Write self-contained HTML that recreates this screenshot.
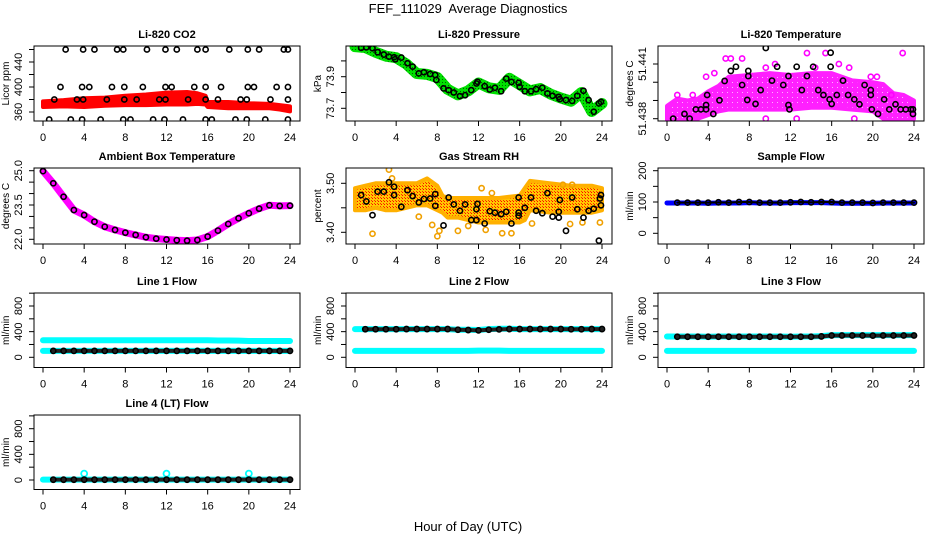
<!DOCTYPE html>
<html><head><meta charset="utf-8"><style>
html,body{margin:0;padding:0;background:#fff}
svg{display:block;font-family:"Liberation Sans",sans-serif}
text{fill:#000}
</style></head><body>
<svg id="chart" width="936" height="540" viewBox="0 0 936 540">
<defs>
<pattern id="pGreen" width="3" height="3" patternUnits="userSpaceOnUse"><rect width="3" height="3" fill="#00e000"/><rect x="1" y="1" width="1" height="1" fill="#006000"/></pattern>
<pattern id="pOrange" width="3" height="3" patternUnits="userSpaceOnUse"><rect width="3" height="3" fill="#ffc800"/><rect width="1" height="1" fill="#f00"/><rect x="2" y="2" width="1" height="1" fill="#ff3000"/></pattern>
<pattern id="pMag" width="5" height="5" patternUnits="userSpaceOnUse"><rect width="5" height="5" fill="#ff20ff"/><rect x="2" y="2" width="1" height="1" fill="#ffb0ff"/></pattern>
</defs>
<text x="468" y="13" text-anchor="middle" font-size="13" xml:space="preserve">FEF_111029  Average Diagnostics</text>
<text x="468" y="531" text-anchor="middle" font-size="13">Hour of Day (UTC)</text>
</svg>
<script>
// ---------- data ----------
const hoursTicks=[0,4,8,12,16,20,24];
// CO2
const co2BandT=[0,2,4,6,8,10,12,14,15,15.8,16,18,20,22,23,24];
const co2Low=[368,369,368,370,371,371,372,372,373,372,368,366,366,366,364,361];
const co2High=[377,379,382,383,386,388,391,392,390,386,376,376,374,373,371,369];
const co2PtT=[2.2,3.9,5.0,7.2,7.8,10.1,11.9,13.0,15.0,15.8,18.1,19.9,21.0,23.4,23.8,1.7,3.8,4.5,6.7,7.9,9.7,11.9,12.5,14.7,15.8,17.3,19.9,20.5,22.7,23.8,1.1,3.3,3.9,6.2,7.9,9.1,11.3,11.9,14.1,15.8,17.0,19.2,19.8,22.1,23.8,0.6,2.7,3.8,5.6,7.8,8.5,10.7,11.8,13.6,15.8,16.4,18.7,19.8,21.6,23.8];
const co2PtV=[460,460,460,460,460,460,460,460,460,460,460,460,460,460,460,400,400,400,400,400,400,400,400,400,400,400,400,400,400,400,380,380,380,380,380,380,380,380,380,380,380,380,380,380,380,348,348,348,348,348,348,348,348,348,348,348,348,348,348,348];
// Pressure
const presT=[0,1,2,3,4,5,6,7,8,9,10,11,12,13,14,15,16,17,18,19,20,21,22,23,24];
const presC=[74.09,74.085,74.055,74.03,74.02,73.98,73.92,73.915,73.895,73.82,73.785,73.81,73.86,73.83,73.82,73.89,73.85,73.81,73.825,73.79,73.765,73.745,73.80,73.68,73.73];
const presPtT=[0.6,1.1,1.7,2.2,2.8,3.3,3.8,3.9,4.5,5.1,5.6,6.2,6.7,7.3,7.8,7.9,8.6,9.1,9.6,10.2,10.7,11.3,11.8,11.9,12.6,13.1,13.6,14.2,14.7,15.2,15.9,16.0,16.5,17.1,17.6,18.2,18.7,19.2,19.8,19.9,20.5,21.1,21.6,22.2,22.7,23.2,23.7,23.9];
const presPtV=[74.083,74.086,74.080,74.055,74.040,74.027,74.023,74.010,74.021,73.985,73.964,73.921,73.928,73.917,73.911,73.879,73.826,73.815,73.800,73.777,73.783,73.815,73.857,73.868,73.840,73.819,73.830,73.808,73.888,73.867,73.861,73.836,73.808,73.808,73.821,73.830,73.794,73.779,73.772,73.758,73.752,73.747,73.779,73.811,73.752,73.678,73.731,73.741];
// Li-820 temperature
const ltBandT=[0,1,2,3,4,5,6,8,10,12,14,16,18,20,21,22,23,24];
const ltLow=[51.4379,51.4379,51.4379,51.4380,51.4382,51.4384,51.4385,51.4385,51.4385,51.4385,51.4386,51.4386,51.4385,51.4384,51.4380,51.4379,51.4379,51.4380];
const ltHigh=[51.4387,51.4391,51.4390,51.4391,51.4395,51.4398,51.4403,51.4404,51.4405,51.4404,51.4405,51.4405,51.4401,51.4400,51.4399,51.4394,51.4393,51.4390];
const ltOutT=[3.8,5.7,6.2,7.3,9.6,13.6,15.4,17.7,22.9,9.6,12.6,18.2,1.0,2.5,4.6,10.5,14.4,16.7,19.8,20.4,21.8];
const ltOutV=[51.4403,51.4413,51.4413,51.4413,51.4408,51.4416,51.4416,51.4408,51.4416,51.4380,51.4380,51.4380,51.4393,51.4393,51.4405,51.4410,51.4408,51.4410,51.4403,51.4403,51.4393];
const ltPtT=[0.6,1.7,2.2,2.8,3.3,3.8,3.8,3.9,4.5,5.1,5.6,6.2,6.7,7.3,7.8,7.9,7.9,8.6,9.1,9.6,10.2,10.7,11.3,11.8,11.8,11.9,12.6,13.1,13.6,14.2,14.7,15.2,15.8,15.9,15.9,16.0,16.5,17.1,17.6,18.2,18.7,19.2,19.8,19.8,19.9,20.5,21.1,21.6,22.2,22.7,23.2,23.7,23.9,23.9];
const ltPtV=[51.43800,51.43826,51.43800,51.43851,51.43851,51.43851,51.43875,51.43930,51.43826,51.43901,51.44007,51.44062,51.44085,51.43985,51.43903,51.44034,51.44062,51.43881,51.43957,51.44188,51.44009,51.44085,51.43985,51.44034,51.43875,51.43851,51.44085,51.43957,51.44034,51.44085,51.43957,51.43930,51.43906,51.44162,51.44085,51.43881,51.43930,51.44009,51.43930,51.43906,51.43879,51.43985,51.43957,51.43930,51.43851,51.43826,51.43906,51.43851,51.43879,51.43851,51.43851,51.43851,51.43826,51.43851];
// Ambient box temperature
const ambT=[0,1,2,3,4,5,6,7,8,9,10,11,12,13,14,15,16,17,18,19,20,21,22,23,24];
const ambV=[24.98,24.45,23.86,23.28,23.06,22.77,22.55,22.41,22.29,22.19,22.09,22.03,21.99,21.96,21.94,21.97,22.12,22.38,22.67,22.92,23.14,23.34,23.49,23.46,23.47];
// Gas stream RH
const rhBandT=[0,1,2,3,4,5,6,7,8,8.5,9,10,12,14,16,16.5,17,19,21,22,23,24];
const rhLow=[3.445,3.445,3.450,3.445,3.445,3.450,3.455,3.455,3.445,3.440,3.430,3.430,3.420,3.420,3.420,3.425,3.445,3.440,3.440,3.440,3.440,3.445];
const rhHigh=[3.490,3.495,3.500,3.500,3.500,3.500,3.500,3.510,3.495,3.475,3.470,3.470,3.470,3.470,3.475,3.490,3.505,3.500,3.495,3.495,3.495,3.490];
const rhOutT=[1.7,3.3,8.0,8.2,10.0,11.0,12.7,14.3,15.2,17.2,20.9,22.1,23.8,6.2,7.5,12.3,13.3,20.2,3.6,21.1];
const rhOutV=[3.397,3.528,3.392,3.403,3.403,3.413,3.405,3.398,3.398,3.418,3.417,3.420,3.420,3.432,3.415,3.490,3.480,3.497,3.510,3.497];
const rhPtT=[0.6,1.1,1.7,2.2,2.8,3.3,3.8,3.8,4.5,5.1,5.6,6.2,6.7,7.3,7.8,7.8,8.6,9.1,9.6,10.2,10.7,11.3,11.8,11.8,11.9,12.6,13.1,13.6,14.2,14.7,15.2,15.9,15.9,15.9,16.5,17.1,17.6,18.2,18.7,19.2,19.8,19.8,19.9,20.5,21.1,21.6,22.2,22.7,23.2,23.7,23.8,23.9,23.9];
const rhPtV=[3.476,3.463,3.435,3.483,3.483,3.502,3.493,3.476,3.452,3.486,3.474,3.461,3.468,3.469,3.478,3.454,3.414,3.471,3.457,3.444,3.457,3.425,3.425,3.447,3.458,3.418,3.443,3.440,3.437,3.442,3.418,3.434,3.440,3.471,3.450,3.471,3.444,3.439,3.480,3.432,3.442,3.430,3.466,3.403,3.471,3.447,3.430,3.444,3.448,3.383,3.469,3.455,3.476];
// flows (hourly)
const flowT=[0,1,2,3,4,5,6,7,8,9,10,11,12,13,14,15,16,17,18,19,20,21,22,23,24];
const sampleBlue=[97,97,97,97,96,97,97,97,98,97,97,97,98,98,98,98,97,96,96,96,96,97,97,97,97];
const sampleBlack=[97,98,98,98,98,99,98,100,100,98,98,98,99,100,99,100,100,98,98,98,97,98,98,98,98];
const l1CyanHi=[265,265,265,265,265,265,265,265,265,265,265,265,265,265,265,265,265,262,262,260,255,255,255,255,255];
const l1Black=[100,100,100,100,100,100,100,100,100,100,100,100,100,100,100,100,100,100,100,100,100,100,100,100,100];
const l2Cyan=[440,440,440,440,440,440,440,440,440,440,430,430,425,440,445,445,440,440,440,440,440,440,440,440,440];
const l2Black=[440,438,438,438,438,440,440,440,440,440,430,425,420,430,435,440,440,440,440,440,440,438,438,440,440];
const l2CyanLo=[100,100,100,100,100,100,100,100,100,100,100,100,105,105,105,100,100,100,100,100,100,100,100,100,100];
const l3Cyan=[325,325,325,325,320,325,325,325,325,325,325,325,320,325,325,330,345,345,345,345,345,345,345,345,345];
const l3Black=[320,320,320,320,320,320,320,320,320,320,320,320,320,320,320,325,340,340,340,340,338,340,340,340,340];
const l3CyanLo=[100,100,100,100,100,100,100,100,100,100,100,100,100,100,100,100,100,100,100,100,100,100,100,100,100];
const l4Black=[5,5,5,5,5,5,5,5,5,5,5,5,5,5,5,5,5,5,5,5,5,5,5,5,5];
const l4SpikeT=[4,12,20];
const l4SpikeV=[100,100,100];

// ---------- layout ----------
const NS='http://www.w3.org/2000/svg';
const svg=document.getElementById('chart');
const COLS=[{l:34,r:300,x0:43,x24:290},{l:346,r:612,x0:355,x24:602},{l:658,r:924,x0:667,x24:914}];
const ROWS=[{t:46,b:121},{t:168,b:244},{t:293,b:367.5},{t:415,b:489.5}];
function mk(tag,attrs,parent){const e=document.createElementNS(NS,tag);for(const k in attrs)e.setAttribute(k,attrs[k]);(parent||svg).appendChild(e);return e;}
function lin(v1,p1,v2,p2){return v=>p1+(v-v1)*(p2-p1)/(v2-v1);}

function panel(ci,ri,name,title,ylab,ycal,yticks,ylabels,lfs){
  const c=COLS[ci],r=ROWS[ri];
  const g=mk('g',{});
  
  
  const X=lin(0,c.x0,24,c.x24);
  const Y=lin(ycal[0],ycal[1],ycal[2],ycal[3]);
  const clip=mk('clipPath',{id:'clip-'+name},g);
  mk('rect',{x:c.l,y:r.t,width:c.r-c.l,height:r.b-r.t},clip);
  const plot=mk('g',{'clip-path':'url(#clip-'+name+')'},g);
  
  
  const box=mk('rect',{x:c.l,y:r.t,width:c.r-c.l,height:r.b-r.t,fill:'none',stroke:'#000','stroke-width':1},g);
  
  
  const tt=mk('text',{x:(c.l+c.r)/2,y:r.t-8,'text-anchor':'middle','font-size':11,'font-weight':'bold'},g);
  tt.textContent=title;
  
  
  const xa=mk('g',{stroke:'#000','stroke-width':1},g);
  
  
  mk('line',{x1:X(0),x2:X(24),y1:r.b,y2:r.b},xa);
  hoursTicks.forEach(h=>{
    mk('line',{x1:X(h),x2:X(h),y1:r.b,y2:r.b+5},xa);
    const t=mk('text',{x:X(h),y:r.b+20,'text-anchor':'middle','font-size':11,stroke:'none'},xa);
    t.textContent=h;
    
    
  });
  const ya=mk('g',{stroke:'#000','stroke-width':1},g);
  
  
  mk('line',{x1:c.l,x2:c.l,y1:Y(yticks[0]),y2:Y(yticks[yticks.length-1])},ya);
  yticks.forEach(v=>mk('line',{x1:c.l-5,x2:c.l,y1:Y(v),y2:Y(v)},ya));
  ylabels.forEach(([v,s])=>{
    const t=mk('text',{x:0,y:0,'text-anchor':'middle','font-size':lfs||11,stroke:'none',transform:`translate(${c.l-12},${Y(v)}) rotate(-90)`},ya);
    t.textContent=s;
    
    
  });
  const yl=mk('text',{x:0,y:0,'text-anchor':'middle','font-size':10,transform:`translate(${c.l-25},${(r.t+r.b)/2}) rotate(-90)`},g);
  yl.textContent=ylab;
  
  
  return {X,Y,plot};
}
function band(p,T,lo,hi,fill,name,sc){
  let d='M'+T.map((t,i)=>p.X(t)+','+p.Y(hi[i])).join('L');
  for(let i=T.length-1;i>=0;i--)d+='L'+p.X(T[i])+','+p.Y(lo[i]);
  const e=mk('path',{d:d+'Z',fill:fill,stroke:sc||fill,'stroke-width':4,'stroke-linejoin':'round'},p.plot);
  
  
}
function thick(p,T,V,color,w,name){
  const e=mk('polyline',{points:T.map((t,i)=>p.X(t)+','+p.Y(V[i])).join(' '),fill:'none',stroke:color,'stroke-width':w,'stroke-linecap':'round','stroke-linejoin':'round'},p.plot);
  
  
}
function pts(p,T,V,color,name,rad,sw){
  const g=mk('g',{},p.plot);
  
  
  T.forEach((t,i)=>{
    const e=mk('circle',{cx:p.X(t),cy:p.Y(V[i]),r:rad||2.6,fill:'none',stroke:color,'stroke-width':sw||1.6},g);
    
    
  });
}

// CO2
let p=panel(0,0,'co2','Li-820 CO2','Licor ppm',[360,112,440,62],[360,380,400,420,440,460],[[360,'360'],[400,'400'],[440,'440']]);
band(p,co2BandT,co2Low,co2High,'#ff0000','co2-red-band');
pts(p,co2PtT,co2PtV,'#000','co2-black-points');
// Pressure
p=panel(1,0,'pressure','Li-820 Pressure','kPa',[73.7,108.3,73.9,76.7],[73.7,73.8,73.9,74.0],[[73.7,'73.7'],[73.9,'73.9']]);
thick(p,presT,presC,'#00e000',11,'pressure-green-base');
thick(p,presT,presC,'url(#pGreen)',10,'pressure-green-texture');
pts(p,presPtT,presPtV,'#000','pressure-black-points');
// Li-820 temp
p=panel(2,0,'li820-temp','Li-820 Temperature','degrees C',[51.438,118.7,51.441,64],[51.438,51.439,51.440,51.441],[[51.438,'51.438'],[51.441,'51.441']]);
band(p,ltBandT,ltLow,ltHigh,'url(#pMag)','li820-temp-magenta-band','#ff20ff');
pts(p,ltOutT,ltOutV,'#ff00ff','li820-temp-magenta-points');
pts(p,ltPtT,ltPtV,'#000','li820-temp-black-points');
// Ambient
p=panel(0,1,'ambient','Ambient Box Temperature','degrees C',[22,239.3,25,170.7],[22,22.5,23,23.5,24,24.5,25],[[25,'25.0'],[23.5,'23.5'],[22,'22.0']]);
thick(p,ambT,ambV,'#ff00ff',7,'ambient-magenta-line');
pts(p,ambT,ambV,'#000','ambient-black-points',2.6,1.6);
// RH
p=panel(1,1,'rh','Gas Stream RH','percent',[3.40,232.3,3.50,183.3],[3.40,3.45,3.50],[[3.40,'3.40'],[3.50,'3.50']]);
band(p,rhBandT,rhLow,rhHigh,'url(#pOrange)','rh-orange-band','#ffb000');
pts(p,rhOutT,rhOutV,'#f0a000','rh-orange-points');
pts(p,rhPtT,rhPtV,'#000','rh-black-points');
// Sample flow
p=panel(2,1,'sample-flow','Sample Flow','ml/min',[0,233.3,200,170.7],[0,50,100,150,200],[[0,'0'],[100,'100'],[200,'200']]);
thick(p,flowT,sampleBlue,'#0000ff',5,'sample-flow-blue-line');
pts(p,flowT.slice(1),sampleBlack.slice(1),'#000','sample-flow-black-points');
thick(p,flowT.slice(1),sampleBlack.slice(1),'#000',2,'sample-flow-black-line');
// Line flows
const ft=[0,200,400,600,800,1000],fl=[[0,'0'],[400,'400'],[800,'800']];
p=panel(0,2,'line1-flow','Line 1 Flow','ml/min',[0,357.3,800,306],ft,fl);
thick(p,flowT,l1CyanHi,'#00ffff',6,'line1-cyan-high');
thick(p,flowT,l1Black,'#00ffff',6,'line1-cyan-low');
thick(p,flowT.slice(1),l1Black.slice(1),'#222',4,'line1-black-line');
pts(p,flowT.slice(1),l1Black.slice(1),'#000','line1-black-points');
p=panel(1,2,'line2-flow','Line 2 Flow','ml/min',[0,357.3,800,306],ft,fl);
thick(p,flowT,l2Cyan,'#00ffff',6,'line2-cyan-high');
thick(p,flowT,l2CyanLo,'#00ffff',6,'line2-cyan-low');
thick(p,flowT.slice(1),l2Black.slice(1),'#222',4,'line2-black-line');
pts(p,flowT.slice(1),l2Black.slice(1),'#000','line2-black-points');
p=panel(2,2,'line3-flow','Line 3 Flow','ml/min',[0,357.3,800,306],ft,fl);
thick(p,flowT,l3Cyan,'#00ffff',6,'line3-cyan-high');
thick(p,flowT,l3CyanLo,'#00ffff',6,'line3-cyan-low');
thick(p,flowT.slice(1),l3Black.slice(1),'#222',4,'line3-black-line');
pts(p,flowT.slice(1),l3Black.slice(1),'#000','line3-black-points');
p=panel(0,3,'line4-flow','Line 4 (LT) Flow','ml/min',[0,480,800,428.7],ft,fl);
thick(p,flowT,l4Black,'#00ffff',6,'line4-cyan-line');
pts(p,l4SpikeT,l4SpikeV,'#00ffff','line4-cyan-spikes',3,1.8);
thick(p,flowT.slice(1),l4Black.slice(1),'#222',4,'line4-black-line');
pts(p,flowT.slice(1),l4Black.slice(1),'#000','line4-black-points');
</script>
</body></html>
